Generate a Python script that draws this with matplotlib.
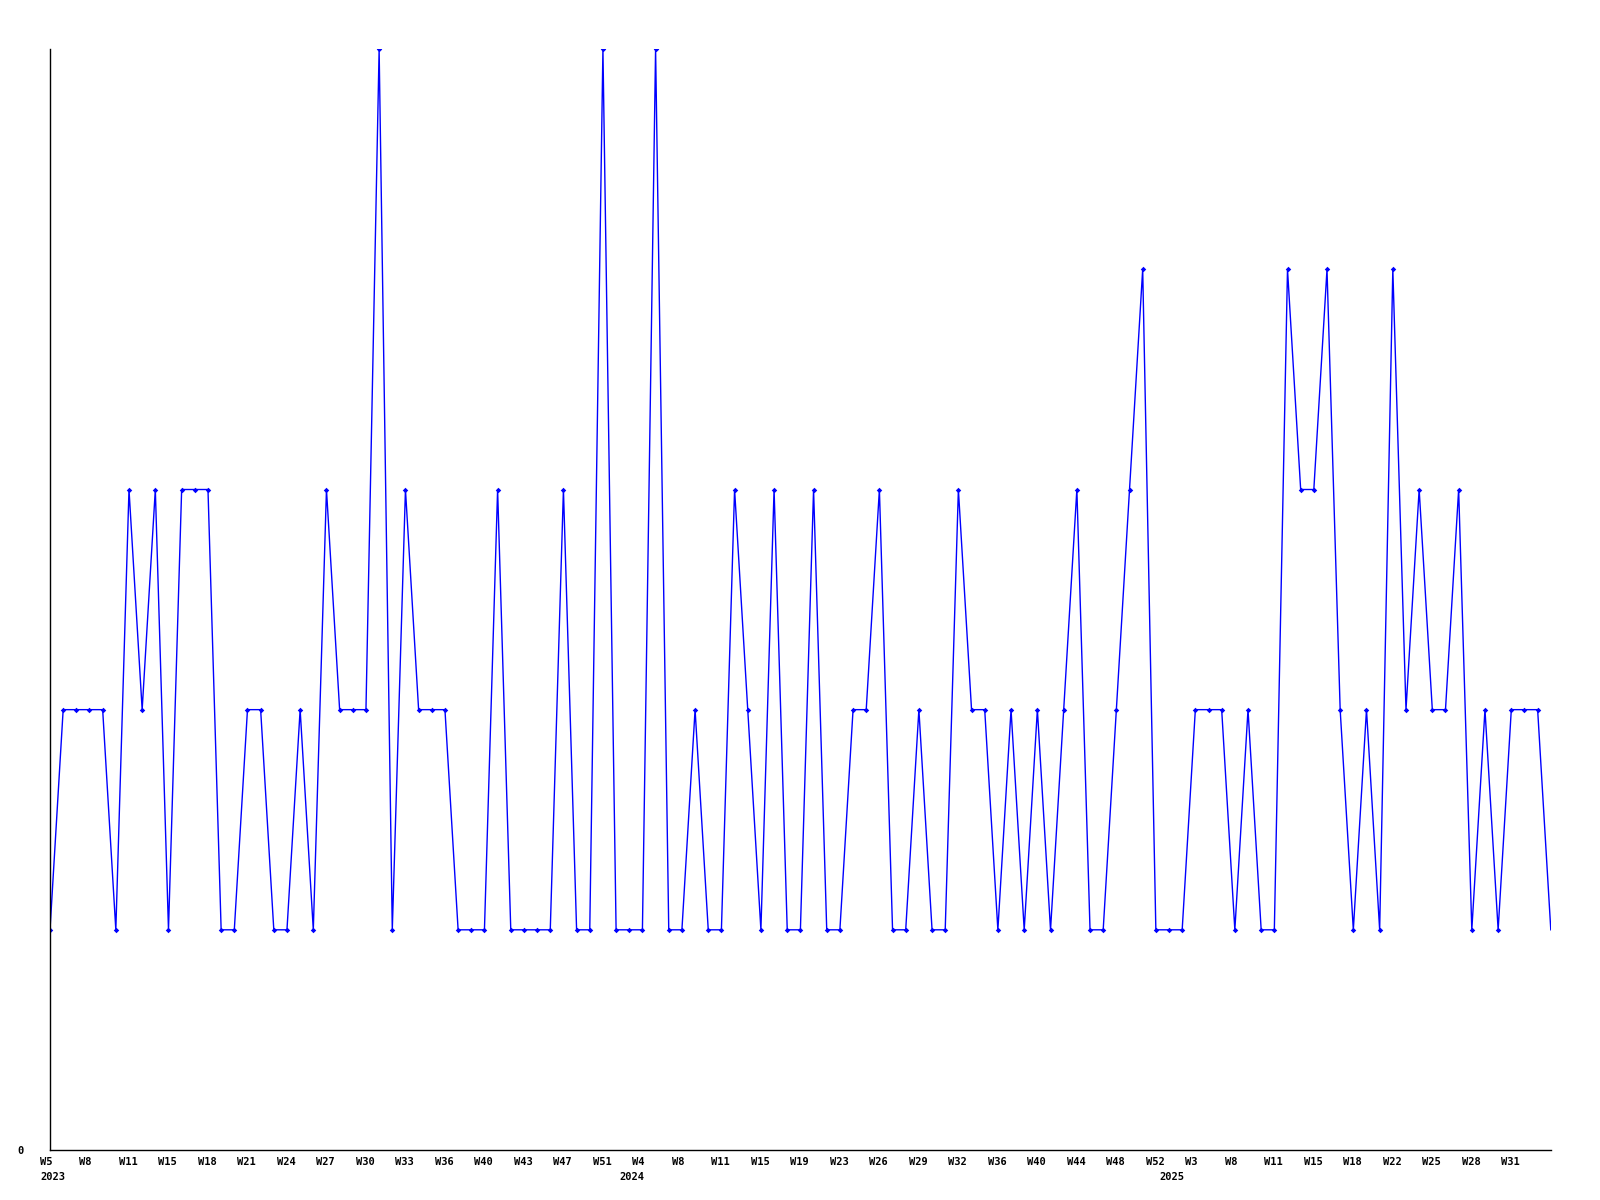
import matplotlib
matplotlib.use("Agg")
import matplotlib.pyplot as plt
import matplotlib.transforms as mtransforms
import numpy as np

# values, one per point (left to right)
values = [
    1, 2, 2, 2, 2, 1, 3, 2, 3, 1, 3, 3, 3, 1, 1, 2, 2, 1, 1, 2,
    1, 3, 2, 2, 2, 5, 1, 3, 2, 2, 2, 1, 1, 1, 3, 1, 1, 1, 1, 3,
    1, 1, 5, 1, 1, 1, 5, 1, 1, 2, 1, 1, 3, 2, 1, 3, 1, 1, 3, 1,
    1, 2, 2, 3, 1, 1, 2, 1, 1, 3, 2, 2, 1, 2, 1, 2, 1, 2, 3, 1,
    1, 2, 3, 4, 1, 1, 1, 2, 2, 2, 1, 2, 1, 1, 4, 3, 3, 4, 2, 1,
    2, 1, 4, 2, 3, 2, 2, 3, 1, 2, 1, 2, 2, 2, 1,
]

# one label every 3 points
week_labels = [
    "W5", "W8", "W11", "W15", "W18", "W21", "W24", "W27", "W30", "W33",
    "W36", "W40", "W43", "W47", "W51", "W4", "W8", "W11", "W15", "W19",
    "W23", "W26", "W29", "W32", "W36", "W40", "W44", "W48", "W52", "W3",
    "W8", "W11", "W15", "W18", "W22", "W25", "W28", "W31",
]
tick_step = 3

# year labels sit where each year begins (in point units)
years = ["2023", "2024", "2025"]
year_pos = [0.2, 44.2, 85.2]

fig = plt.figure(figsize=(16, 12), dpi=100)
ax = fig.add_axes([0.03125, 0.0417, 0.938, 0.9173])

x = np.arange(len(values))
ax.plot(x, values, color="#0000ff", linewidth=1.0, marker="D", markersize=2.8,
        markerfacecolor="#0000ff", markeredgewidth=0,
        markevery=list(range(len(values) - 1)))
ax.set_xlim(0, len(values) - 1)
ax.set_ylim(0, 5)

for s in ["top", "right"]:
    ax.spines[s].set_visible(False)
for s in ["left", "bottom"]:
    ax.spines[s].set_linewidth(1.0)
    ax.spines[s].set_color("black")

font = dict(fontfamily="DejaVu Sans Mono", fontweight="bold", fontsize=7.5)

ticks = [i * tick_step for i in range(len(week_labels))]
ax.set_xticks(ticks)
ax.set_xticklabels(week_labels, ha="left", va="top", **font)
ax.tick_params(axis="x", length=0, pad=5)

offset = mtransforms.ScaledTranslation(-10 / 100, 0, fig.dpi_scale_trans)
for lab in ax.get_xticklabels():
    lab.set_transform(lab.get_transform() + offset)

# years on a second row under the week labels
trans = mtransforms.blended_transform_factory(ax.transData, ax.transAxes)
trans = trans + mtransforms.ScaledTranslation(0, -27 / 100, fig.dpi_scale_trans)
for yr, p in zip(years, year_pos):
    ax.text(p, 0, yr, transform=trans, ha="center", va="center", **font)

ax.set_yticks([0])
ax.set_yticklabels(["0"], **font)
ax.tick_params(axis="y", length=0, pad=19)

fig.savefig("out.png", dpi=100)
